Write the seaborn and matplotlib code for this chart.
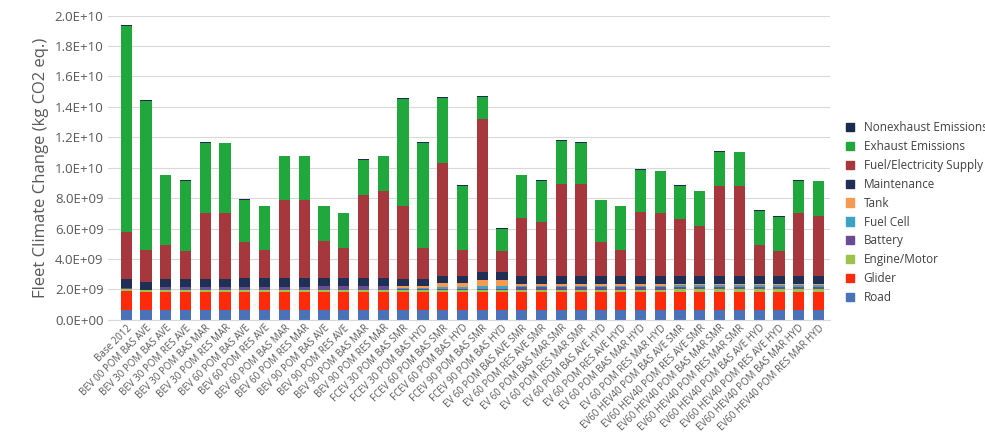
import numpy as np
import pandas as pd
import matplotlib
matplotlib.use("Agg")
import matplotlib.pyplot as plt
import seaborn as sns
from matplotlib.patches import Patch

plt.rcParams["font.family"] = "Open Sans"

scenarios = ["Base 2012", "BEV 00 POM BAS AVE", "BEV 30 POM BAS AVE", "BEV 30 POM RES AVE",
             "BEV 30 POM BAS MAR", "BEV 30 POM RES MAR", "BEV 60 POM BAS AVE", "BEV 60 POM RES AVE",
             "BEV 60 POM BAS MAR", "BEV 60 POM RES MAR", "BEV 90 POM BAS AVE", "BEV 90 POM RES AVE",
             "BEV 90 POM BAS MAR", "BEV 90 POM RES MAR", "FCEV 30 POM BAS SMR", "FCEV 30 POM BAS HYD",
             "FCEV 60 POM BAS SMR", "FCEV 60 POM BAS HYD", "FCEV 90 POM BAS SMR", "FCEV 90 POM BAS HYD",
             "EV 60 POM BAS AVE SMR", "EV 60 POM RES AVE SMR", "EV 60 POM BAS MAR SMR", "EV 60 POM RES MAR SMR",
             "EV 60 POM BAS AVE HYD", "EV 60 POM RES AVE HYD", "EV 60 POM BAS MAR HYD", "EV 60 POM RES MAR HYD",
             "EV60 HEV40 POM BAS AVE SMR", "EV60 HEV40 POM RES AVE SMR", "EV60 HEV40 POM BAS MAR SMR",
             "EV60 HEV40 POM RES MAR SMR", "EV60 HEV40 POM BAS AVE HYD", "EV60 HEV40 POM RES AVE HYD",
             "EV60 HEV40 POM BAS MAR HYD", "EV60 HEV40 POM RES MAR HYD"]

# values in 1e9 kg CO2 eq.
road = [0.67]*36
glider = [1.25] + [1.18]*35
engine = [0.12, 0.08] + [0.08]*12 + [0.10]*6 + [0.12]*8 + [0.15]*8
battery = [0.05, 0.02] + [0.20]*4 + [0.25]*4 + [0.30]*4 + [0.05]*6 + [0.18]*16
fuel_cell = [0]*14 + [0.10, 0.10, 0.15, 0.15, 0.20, 0.20] + [0.08]*16
tank = [0]*14 + [0.10, 0.10, 0.25, 0.25, 0.45, 0.45] + [0.10]*16
maintenance = [0.62, 0.55] + [0.55]*12 + [0.50]*6 + [0.55]*16
fuel_top = [5.8, 4.6, 4.9, 4.5, 7.0, 7.0, 5.1, 4.6, 7.9, 7.9, 5.2, 4.7, 8.2, 8.5,
            7.5, 4.7, 10.3, 4.6, 13.2, 4.5, 6.7, 6.4, 8.9, 8.9, 5.1, 4.6, 7.1, 7.0,
            6.6, 6.2, 8.8, 8.8, 4.9, 4.5, 7.0, 6.8]
total = [19.35, 14.45, 9.55, 9.2, 11.7, 11.65, 7.95, 7.5, 10.8, 10.8, 7.5, 7.05, 10.55, 10.8,
         14.55, 11.7, 14.65, 8.85, 14.7, 6.05, 9.55, 9.2, 11.8, 11.7, 7.9, 7.5, 9.9, 9.8,
         8.85, 8.5, 11.1, 11.05, 7.2, 6.8, 9.2, 9.15]
nonexhaust = [0.05]*36

base = np.array(road) + glider + engine + battery + fuel_cell + tank + maintenance
fuel = list(np.array(fuel_top) - base)
exhaust = list(np.array(total) - np.array(fuel_top) - np.array(nonexhaust))

components = ["Road", "Glider", "Engine/Motor", "Battery", "Fuel Cell", "Tank", "Maintenance",
              "Fuel/Electricity Supply", "Exhaust Emissions", "Nonexhaust Emissions"]
series = [road, glider, engine, battery, fuel_cell, tank, maintenance, fuel, exhaust, nonexhaust]
colors = ["#4a72b8", "#ff2a0a", "#9bc34a", "#6a4c93", "#3ba3c3", "#f59a50", "#1f2f55",
          "#a6373d", "#21a83d", "#1b2a4f"]

rows = []
for comp, vals in zip(components, series):
    for i, v in enumerate(vals):
        rows.append({"idx": i, "component": comp, "value": v * 1e9})
df = pd.DataFrame(rows)

fig = plt.figure(figsize=(9.85, 4.43), dpi=100)
ax = fig.add_axes([0.110, 0.278, 0.733, 0.687])
sns.histplot(data=df, x="idx", weights="value", hue="component", hue_order=components[::-1],
             palette=colors[::-1], multiple="stack", discrete=True, shrink=0.57,
             element="bars", alpha=1, linewidth=0, legend=False, ax=ax)

ax.set_xlim(-0.9, 35.6)
ax.set_ylim(0, 2.0e10)
yt = np.arange(0, 2.01e10, 2e9)
ax.set_yticks(yt)
ax.set_yticklabels(["0.0E+00"] + [f"{v/10**int(np.floor(np.log10(v))):.1f}E+{int(np.floor(np.log10(v))):02d}" for v in yt[1:]])
ax.set_xticks(range(36))
ax.set_xticklabels(scenarios, rotation=45, ha="right", rotation_mode="anchor", fontsize=7, color="#595959")
ax.tick_params(axis="y", labelsize=9.5, colors="#595959", length=0)
ax.tick_params(axis="x", length=0, pad=2)
ax.set_xlabel("")
ax.set_ylabel("Fleet Climate Change (kg CO2 eq.)", fontsize=12, color="#595959")
ax.grid(axis="y", color="#d9d9d9", linewidth=0.8)
ax.set_axisbelow(True)
for s in ["top", "right", "left"]:
    ax.spines[s].set_visible(False)
ax.spines["bottom"].set_color("#d9d9d9")

handles = [Patch(color=c, label=l) for l, c in zip(components[::-1], colors[::-1])]
fig.legend(handles=handles, loc="center left", bbox_to_anchor=(0.848, 0.52), frameon=False,
           fontsize=8.5, handlelength=0.7, handleheight=0.7, labelcolor="#404040", labelspacing=0.5)
fig.savefig("out.png", dpi=100)
